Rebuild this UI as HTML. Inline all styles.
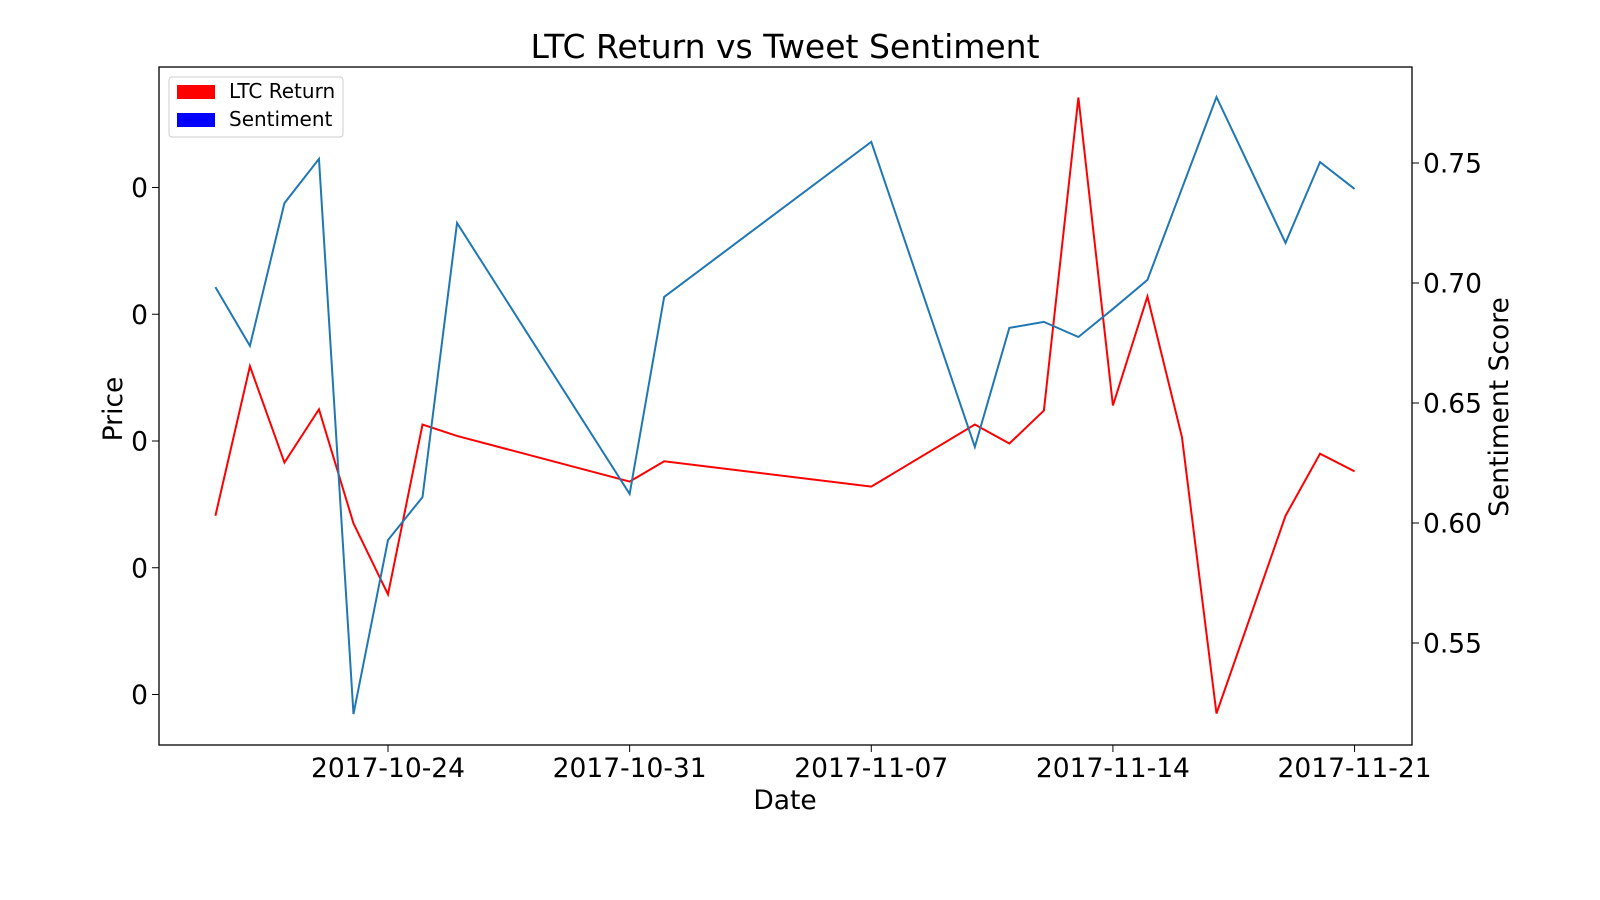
<!DOCTYPE html>
<html><head><meta charset="utf-8"><style>
body{margin:0;background:#fff;}
svg{display:block;font-family:"DejaVu Sans","Liberation Sans",sans-serif;}
</style></head><body>
<svg id="chart" width="1600" height="900">
<text x="785" y="58" font-size="33" text-anchor="middle">LTC Return vs Tweet Sentiment</text>
<g id="lines"></g>
<rect x="159" y="67" width="1253" height="678" fill="none" stroke="#000" stroke-width="1.3"/>
<g id="axes"></g>
<text x="785" y="809" font-size="26.5" text-anchor="middle">Date</text>
<text transform="translate(122,409) rotate(-90)" font-size="26.5" text-anchor="middle">Price</text>
<text transform="translate(1508,407) rotate(-90)" font-size="26.5" text-anchor="middle">Sentiment Score</text>
<g>
<rect x="169" y="77" width="174" height="60" rx="3" fill="#fff" stroke="#ccc" stroke-width="1"/>
<rect x="177" y="85" width="38" height="14" fill="#ff0000"/>
<text x="229" y="98" font-size="20">LTC Return</text>
<rect x="177" y="113" width="38" height="14" fill="#0000ff"/>
<text x="229" y="126" font-size="20">Sentiment</text>
</g>
</svg>
<script>
const dates=["2017-10-19","2017-10-20","2017-10-21","2017-10-22","2017-10-23","2017-10-24","2017-10-25","2017-10-26","2017-10-31","2017-11-01","2017-11-07","2017-11-10","2017-11-11","2017-11-12","2017-11-13","2017-11-14","2017-11-15","2017-11-16","2017-11-17","2017-11-19","2017-11-20","2017-11-21"];
const returns=[-0.0059,0.0059,-0.0017,0.0025,-0.0065,-0.0121,0.0013,0.0004,-0.0032,-0.0016,-0.0036,0.0013,-0.0002,0.0024,0.0271,0.0028,0.0114,0.0003,-0.0215,-0.0059,-0.0010,-0.0024];
const sentiment=[0.6983,0.6738,0.7333,0.7517,0.5204,0.5929,0.6108,0.7250,0.6121,0.6942,0.7588,0.6317,0.6813,0.6838,0.6775,0.6892,0.7013,0.7394,0.7775,0.7167,0.7504,0.7392];
const xTicks=["2017-10-24","2017-10-31","2017-11-07","2017-11-14","2017-11-21"];
const leftTicks=[0.02,0.01,0,-0.01,-0.02];
const rightTicks=[0.75,0.70,0.65,0.60,0.55];
const NS="http://www.w3.org/2000/svg";
const d0=Date.parse("2017-10-24");
function xs(d){return 388+(Date.parse(d)-d0)/86400000*34.52;}
function yl(v){return 441-v*12675;}
function yr(v){return 163+(0.75-v)*2400;}
function el(t,a){const e=document.createElementNS(NS,t);for(const k in a)e.setAttribute(k,a[k]);return e;}
const L=document.getElementById('lines'),A=document.getElementById('axes');
const pr=el('polyline',{points:dates.map((d,i)=>xs(d)+','+yl(returns[i])).join(' '),fill:'none',stroke:'#ff0000','stroke-width':2});


L.appendChild(pr);
const ps=el('polyline',{points:dates.map((d,i)=>xs(d)+','+yr(sentiment[i])).join(' '),fill:'none',stroke:'#1f77b4','stroke-width':2});


L.appendChild(ps);
xTicks.forEach(d=>{const x=xs(d);
A.appendChild(el('line',{x1:x,x2:x,y1:745,y2:752,stroke:'#000'}));
const t=el('text',{x:x,y:777,'font-size':26.5,'text-anchor':'middle'});t.textContent=d;


A.appendChild(t);});
leftTicks.forEach(v=>{const y=yl(v);
A.appendChild(el('line',{x1:152,x2:159,y1:y,y2:y,stroke:'#000'}));
const t=el('text',{x:148,y:y+9.5,'font-size':26.5,'text-anchor':'end'});t.textContent=v.toFixed(0).replace('-','');


A.appendChild(t);});
rightTicks.forEach(v=>{const y=yr(v);
A.appendChild(el('line',{x1:1412,x2:1419,y1:y,y2:y,stroke:'#000'}));
const t=el('text',{x:1423,y:y+9.5,'font-size':26.5});t.textContent=v.toFixed(2);


A.appendChild(t);});
</script>
</body></html>
